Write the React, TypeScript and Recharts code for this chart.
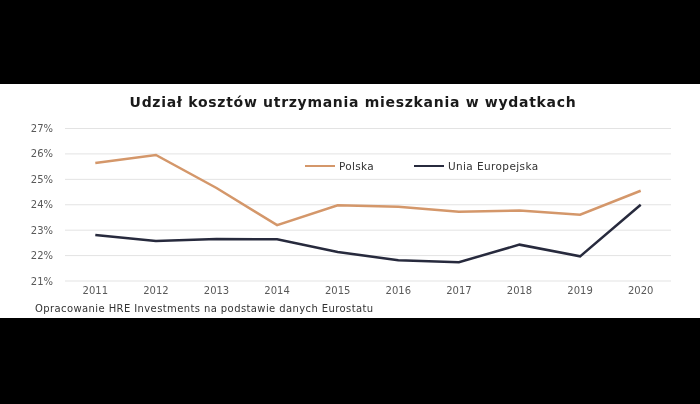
import React from 'react';
import { LineChart, Line, XAxis, YAxis, CartesianGrid } from 'recharts';

const years = ['2011', '2012', '2013', '2014', '2015', '2016', '2017', '2018', '2019', '2020'];
const polska = [25.64, 25.96, 24.66, 23.2, 23.98, 23.92, 23.72, 23.77, 23.61, 24.55];
const uniaEuropejska = [22.81, 22.57, 22.65, 22.64, 22.14, 21.82, 21.74, 22.43, 21.97, 24.0];
const yTicks = [21, 22, 23, 24, 25, 26, 27];

const POLSKA_COLOR = '#d4976a';
const EU_COLOR = '#272a3d';
const FONT = '"DejaVu Sans", Verdana, sans-serif';

const data = years.map((year, i) => ({
  year,
  polska: polska[i],
  eu: uniaEuropejska[i],
}));

// legend drawn as an overlay so it doesn't shrink the plot area
const LegendBox = () => (
  <div
    style={{
      position: 'absolute',
      top: 76,
      left: 305,
      display: 'flex',
      alignItems: 'center',
      fontFamily: FONT,
      fontSize: 10.5,
      color: '#333',
      whiteSpace: 'nowrap',
    }}
  >
    <span style={{ display: 'inline-block', width: 30, height: 2, background: POLSKA_COLOR, marginRight: 4 }} />
    <span style={{ marginRight: 40, letterSpacing: 0.3 }}>Polska</span>
    <span style={{ display: 'inline-block', width: 30, height: 2.5, background: EU_COLOR, marginRight: 4 }} />
    <span style={{ letterSpacing: 0.4 }}>Unia Europejska</span>
  </div>
);

export default function App() {
  return (
    <div style={{ position: 'fixed', left: 0, top: 0, width: 700, height: 404, background: '#000' }}>
      <div style={{ position: 'absolute', left: 0, top: 84, width: 700, height: 234, background: '#fff' }}>
        <div
          style={{
            position: 'absolute',
            top: 10,
            left: 0,
            width: 706,
            textAlign: 'center',
            fontFamily: FONT,
            fontWeight: 'bold',
            fontSize: 14,
            letterSpacing: 0.7,
            color: '#1a1a1a',
          }}
        >
          Udział kosztów utrzymania mieszkania w wydatkach
        </div>
        <LineChart
          width={700}
          height={234}
          data={data}
          margin={{ top: 44.5, right: 29, bottom: 7, left: 15 }}
        >
          <CartesianGrid vertical={false} stroke="#e3e3e3" />
          <XAxis
            dataKey="year"
            axisLine={false}
            tickLine={false}
            tickMargin={0}
            height={30}
            padding={{ left: 30.3, right: 30.3 }}
            interval={0}
            tick={{ fill: '#595959', fontSize: 10, fontFamily: FONT }}
          />
          <YAxis
            domain={[21, 27]}
            ticks={yTicks}
            width={50}
            axisLine={false}
            tickLine={false}
            tickMargin={6}
            tickFormatter={(v) => `${v}%`}
            tick={{ fill: '#595959', fontSize: 10, fontFamily: FONT }}
          />
          <Line
            type="linear"
            dataKey="polska"
            name="Polska"
            stroke={POLSKA_COLOR}
            strokeWidth={2.5}
            dot={false}
            isAnimationActive={false}
          />
          <Line
            type="linear"
            dataKey="eu"
            name="Unia Europejska"
            stroke={EU_COLOR}
            strokeWidth={2.5}
            dot={false}
            isAnimationActive={false}
          />
        </LineChart>
        <LegendBox />
        <div
          style={{
            position: 'absolute',
            left: 35,
            top: 219,
            fontFamily: FONT,
            fontSize: 10,
            letterSpacing: 0.4,
            color: '#333',
            whiteSpace: 'nowrap',
          }}
        >
          Opracowanie HRE Investments na podstawie danych Eurostatu
        </div>
      </div>
    </div>
  );
}
